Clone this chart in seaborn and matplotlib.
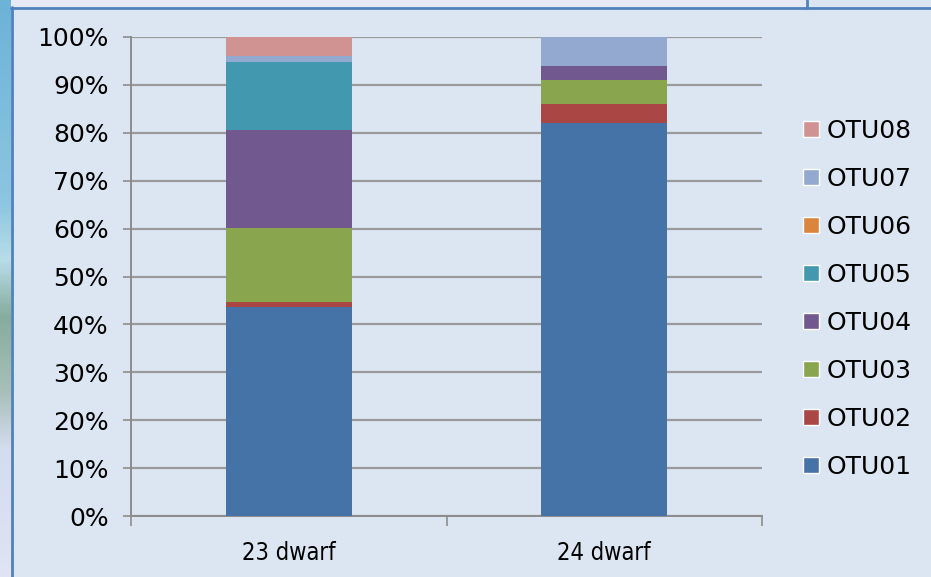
import numpy as np
import matplotlib
matplotlib.use("Agg")
import matplotlib.pyplot as plt
import seaborn as sns
from matplotlib.patches import Patch, Rectangle
from matplotlib.lines import Line2D
from matplotlib.colors import LinearSegmentedColormap

# data (percent of each sample)
samples = ["23 dwarf", "24 dwarf"]
otus = ["OTU01", "OTU02", "OTU03", "OTU04", "OTU05", "OTU06", "OTU07", "OTU08"]
otu01 = [43.6, 82.1]
otu02 = [1.1, 4.0]
otu03 = [15.4, 4.9]
otu04 = [20.5, 3.0]
otu05 = [14.2, 0.0]
otu06 = [0.0, 0.0]
otu07 = [1.3, 6.0]
otu08 = [3.9, 0.0]
yticks = [0, 10, 20, 30, 40, 50, 60, 70, 80, 90, 100]

colors = ["#4572A7", "#AA4643", "#89A54E", "#71588F",
          "#4198AF", "#DB843D", "#93A9CF", "#D19392"]

bg = "#DCE6F2"
sns.set_style("white")
plt.rcParams["font.family"] = ["DejaVu Sans"]
plt.rcParams["text.color"] = "black"
plt.rcParams["xtick.color"] = "black"
plt.rcParams["ytick.color"] = "black"

fig = plt.figure(figsize=(9.31, 5.77), dpi=100, facecolor=bg)
ax = fig.add_axes([131 / 931, 1 - 516 / 577, (762 - 131) / 931, (516 - 37) / 577])
ax.set_facecolor(bg)

# stacked bars: draw cumulative totals from the top segment down
values = np.array([otu01, otu02, otu03, otu04, otu05, otu06, otu07, otu08])
cum = np.cumsum(values, axis=0)
for i in range(len(otus) - 1, -1, -1):
    sns.barplot(x=samples, y=cum[i], color=colors[i], width=0.4,
                saturation=1, ax=ax, zorder=3, edgecolor="none", linewidth=0)

ax.set_xlim(-0.5, 1.5)
ax.set_ylim(0, 100)
ax.set_yticks(yticks)
ax.set_yticklabels([f"{t}%" for t in yticks])
ax.yaxis.grid(True, color="#9a9a9a", linewidth=1.6)
ax.set_axisbelow(True)
ax.tick_params(axis="y", length=6, width=1.2, color="#8c8c8c", pad=10,
               labelsize=18, labelcolor="black", left=True)
ax.tick_params(axis="x", which="major", length=0, pad=18, labelsize=17,
               labelcolor="black")
for lab in ax.get_xticklabels():
    lab.set_fontstretch("condensed")
ax.set_xticks([-0.5, 0.5, 1.5], minor=True)
ax.tick_params(axis="x", which="minor", length=7, width=1.2, color="#8c8c8c",
               direction="out", bottom=True)
for s in ["top", "right"]:
    ax.spines[s].set_visible(False)
for s in ["left", "bottom"]:
    ax.spines[s].set_color("#8c8c8c")
    ax.spines[s].set_linewidth(1.4)
ax.set_xlabel("")
ax.set_ylabel("")

handles = [Patch(facecolor=colors[i], label=otus[i]) for i in range(len(otus) - 1, -1, -1)]
ax.legend(handles=handles, loc="center left", bbox_to_anchor=(0.8625, 0.4825),
          bbox_transform=fig.transFigure, frameon=False, fontsize=18,
          handlelength=0.64, handleheight=0.64, handletextpad=0.3,
          labelspacing=0.96, borderpad=0, borderaxespad=0)

# window decoration around the chart
strip = fig.add_axes([0, 0, 11 / 931, 1])
cmap = LinearSegmentedColormap.from_list(
    "edge", [(0, "#6CB3D8"), (0.35, "#8CC6E0"), (0.45, "#B8DDE8"),
             (0.55, "#86AC9C"), (0.68, "#A8C0B8"), (0.78, "#D4DCEE"), (1, "#E0E4F4")])
strip.imshow(np.linspace(0, 1, 200).reshape(-1, 1), aspect="auto", cmap=cmap)
strip.axis("off")
fig.add_artist(Rectangle((11 / 931, 1 - 8 / 577), 796 / 931, 8 / 577,
                         transform=fig.transFigure, facecolor="#E6E9F5", edgecolor="none"))
fig.add_artist(Line2D([11.5 / 931, 11.5 / 931], [0, 1 - 7 / 577],
                      transform=fig.transFigure, color="#4F81BD", linewidth=2))
fig.add_artist(Line2D([11 / 931, 1], [1 - 8 / 577, 1 - 8 / 577],
                      transform=fig.transFigure, color="#4F81BD", linewidth=2))
fig.add_artist(Line2D([807 / 931, 807 / 931], [1 - 8 / 577, 1],
                      transform=fig.transFigure, color="#4F81BD", linewidth=2))
fig.text(902 / 931, 1 - 2 / 577, "0%", fontsize=18, ha="right", va="bottom",
         color="black")

fig.savefig("out.png", dpi=100, facecolor=bg)
